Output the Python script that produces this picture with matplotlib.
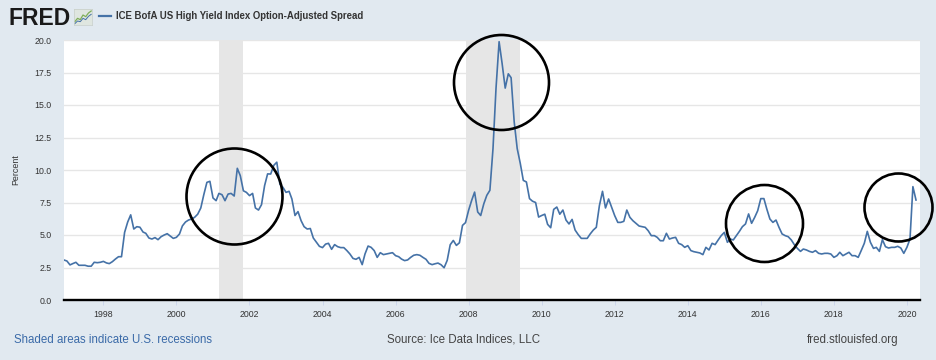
import pandas as pd
import matplotlib
matplotlib.use('Agg')
import matplotlib.pyplot as plt
import matplotlib.dates as mdates
from matplotlib.lines import Line2D

plt.rcParams['font.family'] = ['Liberation Sans', 'DejaVu Sans']

# ICE BofA US High Yield OAS, monthly (percent)
spread_1996 = [3.08]  # Dec 1996
spread_1997 = [3.0, 2.7, 2.8, 2.9, 2.67, 2.67, 2.67, 2.6, 2.6, 2.9, 2.87, 2.9]
spread_1998 = [2.97, 2.85, 2.8, 2.95, 3.15, 3.33, 3.33, 5.2, 6.0, 6.55, 5.46, 5.64]
spread_1999 = [5.6, 5.23, 5.13, 4.77, 4.69, 4.8, 4.64, 4.87, 5.0, 5.1, 4.92, 4.74]
spread_2000 = [4.82, 5.08, 5.7, 6.0, 6.15, 6.23, 6.36, 6.6, 7.08, 8.1, 9.05, 9.13]
spread_2001 = [7.85, 7.64, 8.2, 8.1, 7.64, 8.15, 8.2, 8.0, 10.13, 9.56, 8.4, 8.28]
spread_2002 = [8.03, 8.2, 7.08, 6.92, 7.33, 8.8, 9.7, 9.69, 10.36, 10.6, 8.9, 8.67]
spread_2003 = [8.28, 8.36, 7.77, 6.5, 6.8, 6.1, 5.64, 5.46, 5.5, 4.77, 4.44, 4.13]
spread_2004 = [4.03, 4.3, 4.36, 3.9, 4.26, 4.1, 4.03, 4.03, 3.8, 3.54, 3.2, 3.13]
spread_2005 = [3.28, 2.72, 3.54, 4.15, 4.05, 3.8, 3.28, 3.64, 3.49, 3.54, 3.6, 3.64]
spread_2006 = [3.41, 3.33, 3.15, 3.03, 3.08, 3.28, 3.44, 3.49, 3.44, 3.28, 3.13, 2.82]
spread_2007 = [2.72, 2.79, 2.84, 2.71, 2.48, 3.05, 4.25, 4.58, 4.2, 4.4, 5.74, 5.95]
spread_2008 = [6.9, 7.67, 8.3, 6.77, 6.5, 7.4, 8.05, 8.44, 11.65, 16.27, 19.87, 18.2]
spread_2009 = [16.3, 17.4, 17.1, 13.7, 11.65, 10.5, 9.2, 9.08, 7.8, 7.6, 7.5, 6.38]
spread_2010 = [6.5, 6.6, 5.82, 5.56, 6.97, 7.15, 6.6, 6.92, 6.15, 5.85, 6.2, 5.38]
spread_2011 = [5.03, 4.74, 4.74, 4.74, 5.08, 5.38, 5.59, 7.26, 8.36, 7.08, 7.77, 7.13]
spread_2012 = [6.49, 5.97, 5.97, 6.05, 6.92, 6.36, 6.1, 5.9, 5.69, 5.64, 5.59, 5.33]
spread_2013 = [4.95, 4.95, 4.82, 4.56, 4.56, 5.13, 4.69, 4.77, 4.82, 4.36, 4.26, 4.05]
spread_2014 = [4.18, 3.8, 3.72, 3.67, 3.62, 3.49, 4.05, 3.85, 4.36, 4.26, 4.62, 4.95]
spread_2015 = [5.2, 4.44, 4.69, 4.62, 4.95, 5.28, 5.64, 5.85, 6.62, 5.9, 6.36, 6.87]
spread_2016 = [7.8, 7.8, 7.0, 6.23, 5.97, 6.15, 5.59, 5.08, 4.95, 4.87, 4.62, 4.26]
spread_2017 = [3.97, 3.74, 3.92, 3.85, 3.74, 3.67, 3.8, 3.59, 3.54, 3.59, 3.59, 3.54]
spread_2018 = [3.28, 3.41, 3.67, 3.41, 3.54, 3.67, 3.41, 3.41, 3.28, 3.8, 4.36, 5.28]
spread_2019 = [4.44, 3.97, 4.05, 3.74, 4.64, 4.1, 4.0, 4.05, 4.05, 4.13, 4.0, 3.59]
spread_2020 = [4.05, 4.69, 8.72, 7.69]

spread = (spread_1996 + spread_1997 + spread_1998 + spread_1999 + spread_2000
          + spread_2001 + spread_2002 + spread_2003 + spread_2004 + spread_2005
          + spread_2006 + spread_2007 + spread_2008 + spread_2009 + spread_2010
          + spread_2011 + spread_2012 + spread_2013 + spread_2014 + spread_2015
          + spread_2016 + spread_2017 + spread_2018 + spread_2019 + spread_2020)
dates = pd.date_range('1996-12-01', periods=len(spread), freq='MS')

recessions = [('2001-03-01', '2001-11-01'), ('2007-12-01', '2009-06-01')]

# hand-drawn circles: (center date, center value, diameter in px)
circles = [('2001-08-01', 8.0, 96), ('2008-11-15', 16.8, 95),
           ('2016-01-29', 5.93, 77), ('2019-10-08', 7.19, 68)]

W, H = 936, 360
bg = '#e1e9f0'
fig = plt.figure(figsize=(W / 100, H / 100), dpi=100, facecolor=bg)
ax = fig.add_axes([64 / W, 1 - 300 / H, (920 - 64) / W, 260 / H])
ax.set_facecolor('white')

for start, end in recessions:
    ax.axvspan(pd.Timestamp(start), pd.Timestamp(end), color='#e6e6e6', lw=0, zorder=1)

ax.plot(dates, spread, color='#4572a7', lw=1.2, zorder=3)

for c_date, c_val, diam in circles:
    ax.plot(pd.Timestamp(c_date), c_val, marker='o', ms=diam * 0.72, mfc='none',
            mec='black', mew=1.9, clip_on=False, zorder=5)

ax.set_xlim(pd.Timestamp('1996-12-03'), pd.Timestamp('2020-05-11'))
ax.set_ylim(0, 20)
ax.set_yticks([0, 2.5, 5, 7.5, 10, 12.5, 15, 17.5, 20])
ax.set_yticklabels(['%.1f' % v for v in ax.get_yticks()])
ax.xaxis.set_major_locator(mdates.YearLocator(2, month=1, day=1))
ax.xaxis.set_major_formatter(mdates.DateFormatter('%Y'))

ax.grid(axis='y', color='#e6e6e6', lw=1, zorder=0)
ax.set_axisbelow(True)
for side in ['top', 'right', 'left']:
    ax.spines[side].set_visible(False)
ax.spines['bottom'].set_color('black')
ax.spines['bottom'].set_linewidth(1.7)
ax.spines['bottom'].set_zorder(4)

ax.tick_params(axis='y', length=0, pad=9, labelsize=6.3, labelcolor='#333333')
ax.tick_params(axis='x', length=3.6, width=0.7, color='#ccd6eb', pad=3.4,
               labelsize=6.3, labelcolor='#333333')

fig.text(15.5 / W, 1 - 170 / H, 'Percent', rotation=90, ha='center', va='center',
         fontsize=6.4, color='#333333')

# header
fig.text(9 / W, 1 - 25 / H, 'FRED', fontsize=16.5, fontweight='heavy',
         color='#1a1a1a', va='baseline', ha='left')
icon = fig.add_axes([74 / W, 1 - 25 / H, 18 / W, 16 / H])
icon.set_facecolor('#dfe6e0')
icon.plot([0, 1, 2, 3, 4, 5, 6], [1, 2, 1.6, 3, 2.5, 3.6, 4.2], color='#7fae5a', lw=0.9)
icon.plot([0, 1, 2, 3, 4, 5, 6], [0.4, 1.2, 1.0, 2.0, 1.6, 2.6, 3.2], color='#4572a7', lw=0.7)
icon.set_xlim(-0.3, 6.3)
icon.set_ylim(0, 4.8)
icon.set_xticks([])
icon.set_yticks([])
for s in icon.spines.values():
    s.set_color('#c8cfc8')
    s.set_linewidth(0.5)

fig.add_artist(Line2D([99 / W, 111 / W], [1 - 16 / H, 1 - 16 / H], color='#4572a7', lw=1.6))
fig.text(116 / W, 1 - 16 / H, 'ICE BofA US High Yield Index Option-Adjusted Spread',
         fontsize=6.9, fontweight='bold', color='#333333', va='center', ha='left')

# footer
fig.text(14 / W, 1 - 340 / H, 'Shaded areas indicate U.S. recessions', fontsize=8.3,
         color='#3a6aa8', va='center', ha='left')
fig.text(464 / W, 1 - 340 / H, 'Source: Ice Data Indices, LLC', fontsize=8.3,
         color='#444444', va='center', ha='center')
fig.text(898 / W, 1 - 340 / H, 'fred.stlouisfed.org', fontsize=8.3,
         color='#444444', va='center', ha='right')

fig.savefig('out.png', dpi=100, facecolor=bg)
